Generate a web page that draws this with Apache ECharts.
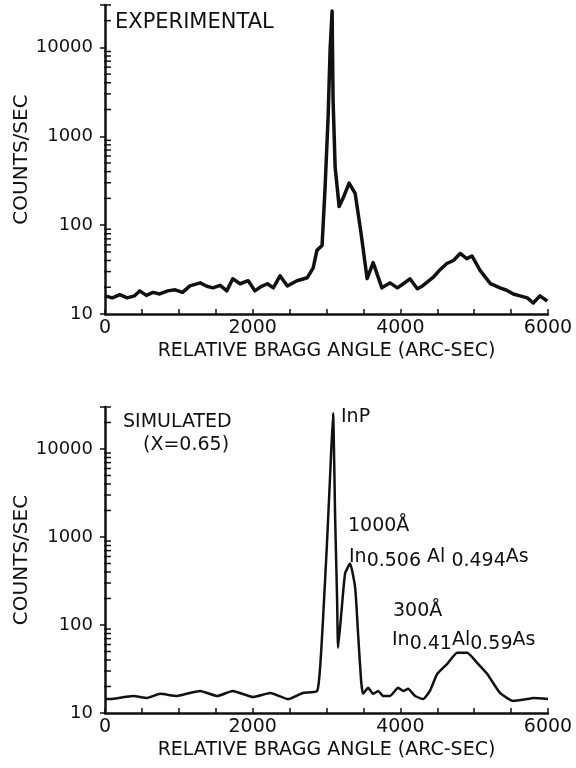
<!DOCTYPE html>
<html>
<head>
<meta charset="utf-8">
<title>Bragg angle scans</title>
<script src="https://cdn.jsdelivr.net/npm/echarts@6/dist/echarts.min.js"></script>
<style>
  html, body { margin: 0; padding: 0; background: #fff; }
  #chart { width: 576px; height: 768px; }
</style>
</head>
<body>
<div id="chart"></div>
<script>
// experimental rocking curve (arc-sec, counts/sec)
const expAngle = [0, 100, 200, 300, 400, 470, 560, 650, 740, 850, 950, 1050, 1150, 1290, 1380, 1460, 1560, 1650, 1730,
  1830, 1940, 2030, 2120, 2200, 2280, 2370, 2470, 2600, 2740, 2820, 2870, 2940, 2981, 3022, 3049, 3076, 3089, 3117,
  3171, 3230, 3306, 3388, 3469, 3550, 3632, 3750, 3860, 3960, 4040, 4130, 4230, 4300, 4440, 4530, 4630, 4720, 4810,
  4900, 4970, 5080, 5220, 5350, 5440, 5530, 5620, 5720, 5800, 5890, 5990];
const expCounts = [16, 15.2, 16.5, 15.2, 16, 18.2, 16.2, 17.5, 16.8, 18.2, 18.7, 17.5, 20.7, 22.4, 20.5, 19.7, 21, 18.2, 24.9,
  21.9, 23.7, 18.2, 20.5, 21.9, 19.7, 26.9, 20.7, 23.7, 25.6, 33, 52, 59, 268, 1660, 9600, 25700, 2580, 450,
  162, 206, 297, 228, 80, 25, 37.8, 19.7, 22.4, 19.7, 21.9, 24.9, 19.2, 20.7, 25.6, 31, 37, 40, 48,
  42, 45, 31, 22, 19.7, 18.5, 16.8, 16, 15.2, 13.3, 16, 14];

// simulated curve, x = 0.65
const simAngle = [0, 70, 380, 570, 745, 975, 1150, 1290, 1520, 1730, 2005, 2240, 2480, 2680, 2873, 2913, 2954, 3008, 3049,
  3089, 3117, 3144, 3157, 3205, 3252, 3320, 3388, 3428, 3469, 3496, 3564, 3632, 3700, 3767, 3860, 3970, 4040, 4105,
  4200, 4310, 4400, 4500, 4635, 4770, 4905, 5040, 5175, 5350, 5530, 5720, 5800, 6000];
const simCounts = [14.4, 14.4, 15.6, 14.8, 16.5, 15.6, 16.9, 17.8, 15.6, 17.8, 15.2, 16.9, 14.4, 16.9, 17.8, 32.6, 121, 900, 5000,
  25700, 1660, 190, 55, 150, 385, 500, 266, 79, 23, 16.5, 19.3, 16.5, 17.8, 15.6, 15.6, 19.3, 17.8, 18.8,
  15.6, 14.4, 17.8, 27.9, 36.2, 48.3, 48.3, 37.2, 27.9, 16.9, 13.7, 14.4, 14.8, 14.4];

// log axis: decades get labels, 2..9 get small inside ticks
const yMin = 10;
const yMax = 30000;
const minorTickVals = [];
for (const decade of [10, 100, 1000, 10000]) {
  for (let k = 2; k <= 9; k++) {
    if (k * decade <= yMax) minorTickVals.push(k * decade);
  }
}

const FONT = 'DejaVu Sans';
const INK = '#111';

function xAxisFor(gridIndex) {
  return {
    type: 'value', gridIndex, min: 0, max: 6000, interval: 500,
    name: 'RELATIVE BRAGG ANGLE (ARC-SEC)', nameLocation: 'middle', nameGap: 28,
    nameTextStyle: { fontFamily: FONT, fontSize: 19, color: INK },
    axisLine: { onZero: false, lineStyle: { color: INK, width: 2.5 } },
    axisTick: { inside: true, length: 5, lineStyle: { color: INK, width: 1.5 } },
    axisLabel: {
      fontFamily: FONT, fontSize: 19, color: INK, margin: 5,
      formatter: (v) => (v % 2000 === 0 ? String(v) : '')
    },
    splitLine: { show: false }
  };
}

function yAxisFor(gridIndex) {
  return {
    type: 'log', logBase: 10, gridIndex, min: yMin, max: yMax,
    name: 'COUNTS/SEC', nameLocation: 'middle', nameGap: 73, nameMoveOverlap: false,
    nameTextStyle: { fontFamily: FONT, fontSize: 20, color: INK },
    axisLine: { lineStyle: { color: INK, width: 2.5 } },
    axisTick: { inside: false, length: 5, lineStyle: { color: INK, width: 1.5 } },
    axisLabel: {
      fontFamily: FONT, fontSize: 18, color: INK, margin: 12,
      formatter: (v) => {
        const e = Math.log10(v);
        return Math.abs(e - Math.round(e)) < 1e-6 ? String(Math.round(v)) : '';
      }
    },
    splitLine: { show: false }
  };
}

function minorTicks(index) {
  return {
    type: 'custom', xAxisIndex: index, yAxisIndex: index, silent: true, clip: false, z: 5,
    encode: { x: 0, y: 1 },
    data: minorTickVals.map((v) => [0, v]),
    renderItem: (params, api) => {
      const p = api.coord([api.value(0), api.value(1)]);
      return {
        type: 'line',
        shape: { x1: p[0] - 1, y1: p[1], x2: p[0] + 6, y2: p[1] },
        style: { stroke: INK, lineWidth: 1.5 }
      };
    }
  };
}

const txt = (x, y, text, size, extra) => ({
  type: 'text', x, y,
  style: Object.assign({ text, fontFamily: FONT, fontSize: size, fill: INK, align: 'left', verticalAlign: 'middle' }, extra || {})
});

const formulaRich = {
  n: { fontFamily: FONT, fontSize: 19, lineHeight: 18, verticalAlign: 'top', fill: INK },
  s: { fontFamily: FONT, fontSize: 19, lineHeight: 18, padding: [8, 0, 0, 0], fill: INK }
};

const chart = echarts.init(document.getElementById('chart'));
chart.setOption({
  animation: false,
  backgroundColor: '#fff',
  grid: [
    { left: 105, top: 5, width: 443, height: 309 },
    { left: 105, top: 407, width: 443, height: 306 }
  ],
  xAxis: [xAxisFor(0), xAxisFor(1)],
  yAxis: [yAxisFor(0), yAxisFor(1)],
  series: [
    {
      type: 'line', xAxisIndex: 0, yAxisIndex: 0, showSymbol: false,
      data: expAngle.map((a, i) => [a, expCounts[i]]),
      lineStyle: { color: INK, width: 3.5, join: 'round' }
    },
    {
      type: 'line', xAxisIndex: 1, yAxisIndex: 1, showSymbol: false,
      smooth: 0.15,
      data: simAngle.map((a, i) => [a, simCounts[i]]),
      lineStyle: { color: INK, width: 2.5, join: 'round' }
    },
    minorTicks(0),
    minorTicks(1)
  ],
  graphic: [
    txt(115, 23, 'EXPERIMENTAL', 21),
    txt(123, 422, 'SIMULATED', 19),
    txt(143, 445, '(X=0.65)', 19),
    txt(341, 417, 'InP', 19),
    txt(348, 526, '1000Å', 19),
    txt(349, 557, '{n|In}{s|0.506} {n|Al} {s|0.494}{n|As}', 19, { rich: formulaRich }),
    txt(393, 611, '300Å', 19),
    txt(392, 640, '{n|In}{s|0.41}{n|Al}{s|0.59}{n|As}', 19, { rich: formulaRich })
  ]
});
</script>
</body>
</html>
